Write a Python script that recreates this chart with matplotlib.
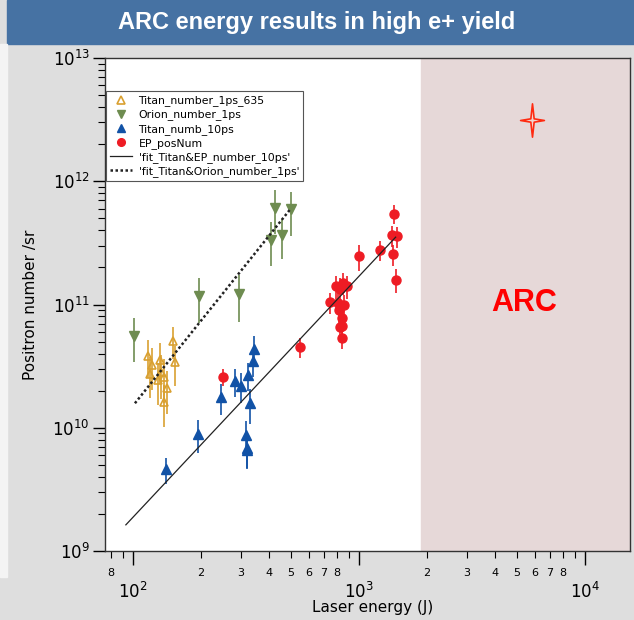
import matplotlib
matplotlib.use("Agg")
import matplotlib.pyplot as plt
import numpy as np
from matplotlib.path import Path
from matplotlib.ticker import LogLocator, FuncFormatter, NullFormatter

# Titan 1ps (635) - open triangles
titan1_x = [150, 116, 153, 132, 121, 119, 129, 137, 142, 137, 133]
titan1_y = [5.1e10, 3.85e10, 3.4e10, 3.55e10, 3.24e10, 2.73e10, 2.44e10, 2.6e10, 2.09e10, 1.61e10, 2.82e10]
titan1_err = [1.5e10, 1.3e10, 1.2e10, 1.3e10, 1.2e10, 1.0e10, 0.9e10, 1.0e10, 0.8e10, 0.6e10, 1.1e10]

# Orion 1ps - down triangles
orion_x = [101, 196, 294, 426, 407, 458, 501]
orion_y = [5.6e10, 1.18e11, 1.22e11, 6.1e11, 3.36e11, 3.64e11, 5.9e11]
orion_err = [2.2e10, 4.7e10, 5.0e10, 2.4e11, 1.3e11, 1.3e11, 2.3e11]

# Titan 10ps - filled triangles
titan10_x = [344, 340, 324, 282, 300, 246, 330, 193, 316, 319, 320, 140]
titan10_y = [4.37e10, 3.46e10, 2.68e10, 2.38e10, 2.19e10, 1.76e10, 1.58e10, 8.9e9, 8.77e9, 6.9e9, 6.6e9, 4.62e9]
titan10_err = [1.2e10, 0.9e10, 0.7e10, 0.6e10, 0.6e10, 0.5e10, 0.5e10, 2.7e9, 2.6e9, 2.2e9, 2.0e9, 1.1e9]

# EP
ep_x = [1432, 1395, 1469, 1239, 1413, 997, 1452, 789, 853, 824, 883, 745, 810, 861,
        818, 841, 824, 844, 838, 550, 250]
ep_y = [5.46e11, 3.64e11, 3.59e11, 2.75e11, 2.55e11, 2.46e11, 1.59e11, 1.41e11, 1.49e11,
        1.34e11, 1.41e11, 1.045e11, 1.03e11, 9.95e10, 8.94e10, 7.74e10, 6.62e10, 6.75e10,
        5.36e10, 4.5e10, 2.57e10]
ep_err = [1.0e11, 0.7e11, 0.7e11, 0.5e11, 0.5e11, 0.6e11, 0.35e11, 0.3e11, 0.3e11,
          0.3e11, 0.3e11, 0.2e11, 0.2e11, 0.2e11, 0.18e11, 0.16e11, 0.14e11, 0.14e11,
          1.0e10, 0.8e10, 0.4e10]

# fits (end points)
fit_ep_x = [93, 1452]
fit_ep_y = [1.63e9, 3.52e11]
fit_orion_x = [102, 500]
fit_orion_y = [1.58e10, 6.03e11]

arc_start = 1880
arc_star = (5850, 3.13e12)
arc_label = (5400, 1.03e11)

c_gold = "#d9a030"
c_green = "#6e8c50"
c_blue = "#1152a6"
c_red = "#ee1c24"

fig = plt.figure(figsize=(6.34, 6.2), dpi=100)
fig.patch.set_facecolor("#dedede")

# title banner
fig.add_artist(plt.Rectangle((7 / 634, 1 - 44 / 620), 1, 44 / 620, transform=fig.transFigure,
                             color="#4672a3", zorder=0))
fig.add_artist(plt.Rectangle((0, 0.07), 7 / 634, 1 - 44 / 620 - 0.07, transform=fig.transFigure,
                             color="#f4f4f4", zorder=0))
fig.text(0.5, 1 - 22 / 620, "ARC energy results in high e+ yield", color="white",
         fontsize=17, fontweight="bold", family="Liberation Sans", ha="center", va="center")

ax = fig.add_axes([105 / 634, 1 - 551 / 620, 525 / 634, 493 / 620])
ax.set_xscale("log")
ax.set_yscale("log")
ax.set_xlim(75.2, 15800)
ax.set_ylim(1e9, 1e13)

ax.axvspan(arc_start, 1e5, color="#e6d8d8", zorder=0)

ax.errorbar(titan1_x, titan1_y, yerr=titan1_err, fmt="none", ecolor=c_gold, elinewidth=1.4,
            alpha=0.85, zorder=2)
ax.errorbar(orion_x, orion_y, yerr=orion_err, fmt="none", ecolor=c_green, elinewidth=1.4,
            alpha=0.85, zorder=2)
ax.errorbar(titan10_x, titan10_y, yerr=titan10_err, fmt="none", ecolor=c_blue, elinewidth=1.4,
            alpha=0.85, zorder=2)
ax.errorbar(ep_x, ep_y, yerr=ep_err, fmt="none", ecolor=c_red, elinewidth=1.4,
            alpha=0.85, zorder=2)

ax.plot(titan1_x, titan1_y, "^", ls="none", ms=6, mfc="none", mec=c_gold, mew=1.2,
        label="Titan_number_1ps_635", zorder=3)
ax.plot(orion_x, orion_y, "v", ls="none", ms=6.5, color=c_green,
        label="Orion_number_1ps", zorder=3)
ax.plot(titan10_x, titan10_y, "^", ls="none", ms=6.5, color=c_blue,
        label="Titan_numb_10ps", zorder=3)
ax.plot(ep_x, ep_y, "o", ls="none", ms=6.5, color=c_red, label="EP_posNum", zorder=3)
ax.plot(fit_ep_x, fit_ep_y, "-", color="#222222", lw=0.9,
        label="'fit_Titan&EP_number_10ps'", zorder=4)
ax.plot(fit_orion_x, fit_orion_y, color="#222222", lw=1.8, dashes=(1, 1),
        label="'fit_Titan&Orion_number_1ps'", zorder=4)

# four-pointed star
s = 0.14
star = Path([(0, 1.4), (s, s), (1, 0), (s, -s), (0, -1.4), (-s, -s), (-1, 0), (-s, s), (0, 1.4)],
            [Path.MOVETO] + [Path.LINETO] * 7 + [Path.CLOSEPOLY])
ax.plot([arc_star[0]], [arc_star[1]], marker=star, ms=24, mfc="#f0d6d0", mec="#ff2a10",
        mew=1.2, ls="none", zorder=5)
ax.text(arc_label[0], arc_label[1], "ARC", color="#ff0000", fontsize=22, fontweight="bold",
        family="Liberation Sans", ha="center", va="center")

leg = ax.legend(loc="upper left", bbox_to_anchor=(0.002, 0.933), borderaxespad=0,
                fontsize=7.8, frameon=True, fancybox=False, framealpha=1,
                edgecolor="#555555", handlelength=2.0, handletextpad=0.6,
                labelspacing=0.3, borderpad=0.4, markerscale=0.85)
leg.get_frame().set_linewidth(0.8)

# ticks
ax.xaxis.set_major_locator(LogLocator(base=10, numticks=10))
ax.xaxis.set_minor_locator(LogLocator(base=10, subs=np.arange(2, 10), numticks=20))


def minor_lab(v, pos):
    m = v / 10 ** np.floor(np.log10(v) + 1e-9)
    d = int(round(m))
    return str(d) if 2 <= d <= 8 else ""


ax.xaxis.set_minor_formatter(FuncFormatter(minor_lab))
ax.yaxis.set_minor_locator(LogLocator(base=10, subs=np.arange(2, 10), numticks=20))
ax.yaxis.set_minor_formatter(NullFormatter())

ax.tick_params(axis="x", which="major", direction="out", length=10, width=1, labelsize=12, pad=12)
ax.tick_params(axis="x", which="minor", direction="out", length=5, width=0.8, labelsize=8, pad=7)
ax.tick_params(axis="y", which="major", direction="out", length=9, width=1, labelsize=12, pad=2)
ax.tick_params(axis="y", which="minor", direction="out", length=5, width=0.8)
for sp in ax.spines.values():
    sp.set_color("#333333")
    sp.set_linewidth(1.0)

ax.set_xlabel("Laser energy (J)", fontsize=11)
ax.set_ylabel("Positron number /sr", fontsize=11)
ax.xaxis.set_label_coords(0.51, -0.1)
ax.yaxis.set_label_coords(-0.128, 0.5)

fig.savefig("out.png", dpi=100, facecolor=fig.get_facecolor())
